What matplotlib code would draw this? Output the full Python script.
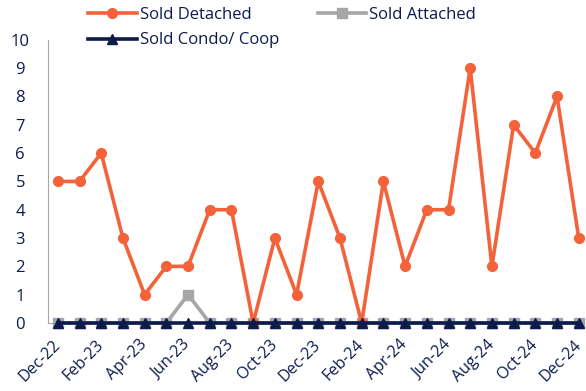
import matplotlib
matplotlib.use("Agg")
import matplotlib.pyplot as plt

plt.rcParams['font.family'] = ['Open Sans', 'DejaVu Sans']

months = ["Dec-22", "Jan-23", "Feb-23", "Mar-23", "Apr-23", "May-23", "Jun-23",
          "Jul-23", "Aug-23", "Sep-23", "Oct-23", "Nov-23", "Dec-23", "Jan-24",
          "Feb-24", "Mar-24", "Apr-24", "May-24", "Jun-24", "Jul-24", "Aug-24",
          "Sep-24", "Oct-24", "Nov-24", "Dec-24"]
detached = [5, 5, 6, 3, 1, 2, 2, 4, 4, 0, 3, 1, 5, 3, 0, 5, 2, 4, 4, 9, 2, 7, 6, 8, 3]
attached = [0, 0, 0, 0, 0, 0, 1, 0, 0, 0, 0, 0, 0, 0, 0, 0, 0, 0, 0, 0, 0, 0, 0, 0, 0]
condo = [0] * 25

navy = "#0C1B4D"
orange = "#F4623A"
gray = "#A6A6A6"

fig = plt.figure(figsize=(5.86, 3.91), dpi=100)
ax = fig.add_axes([0.082, 0.174, 0.913, 0.724])

x = list(range(len(months)))
l1, = ax.plot(x, detached, color=orange, lw=2.6, marker="o", ms=7, label="Sold Detached", clip_on=False, zorder=3)
l2, = ax.plot(x, attached, color=gray, lw=2.6, marker="s", ms=6.5, label="Sold Attached", clip_on=False, zorder=2)
l3, = ax.plot(x, condo, color=navy, lw=2.6, marker="^", ms=6.5, label="Sold Condo/ Coop", clip_on=False, zorder=4)

ax.set_ylim(0, 10)
ax.set_xlim(-0.45, 24.2)
ax.set_yticks(range(0, 11))
ax.set_xticks(x[::2])
ax.set_xticklabels(months[::2], rotation=45, ha="right", va="center", rotation_mode="anchor")
ax.tick_params(axis="both", length=0, colors=navy, labelsize=12)
ax.tick_params(axis="x", pad=14, labelsize=11.5)
ax.tick_params(axis="y", pad=20)
for lab in ax.get_yticklabels():
    lab.set_horizontalalignment("center")
for s in ["top", "right"]:
    ax.spines[s].set_visible(False)
ax.spines["left"].set_color("#A6A6A6")
ax.spines["bottom"].set_color("#A6A6A6")

fig.legend([l1, l3, l2], ["Sold Detached", "Sold Condo/ Coop", "Sold Attached"],
           ncol=2, loc="upper left", bbox_to_anchor=(0.125, 1.02), frameon=False,
           fontsize=12, labelcolor=navy, handlelength=2.9, columnspacing=2.3,
           labelspacing=0.55, handletextpad=0.2)

fig.savefig("out.png", dpi=100)
